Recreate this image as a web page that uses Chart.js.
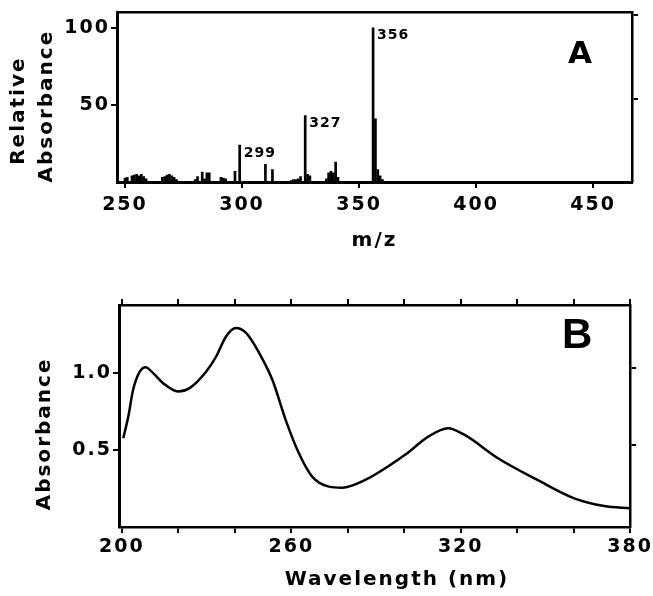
<!DOCTYPE html>
<html>
<head>
<meta charset="utf-8">
<script src="https://cdn.jsdelivr.net/npm/chart.js@4"></script>
<style>
  html, body { margin: 0; padding: 0; background: #fff; }
  #wrap { position: relative; width: 653px; height: 596px; }
  canvas { position: absolute; left: 0; }
  #chartA { top: 0; }
  #chartB { top: 260px; }
</style>
</head>
<body>
<div id="wrap">
  <canvas id="chartA" width="653" height="260"></canvas>
  <canvas id="chartB" width="653" height="336"></canvas>
</div>
<script>
// Panel A - mass spectrum (relative absorbance vs m/z)
const mzValues = [250, 251, 253, 254, 255, 256, 257, 258, 259,
    266, 267, 268, 269, 270, 271, 272,
    280, 281, 283, 284, 285, 286, 291, 292, 293, 297, 299,
    310, 313, 321, 322, 323, 324, 325, 327, 328, 329,
    336, 337, 338, 339, 340, 341, 356, 357, 358, 359, 360];
const relAbsorbance = [2.5, 3, 4, 4.5, 5, 4, 5, 3.5, 2,
    3, 3.5, 4.5, 5, 4, 3, 1.5,
    1.5, 3.5, 6.5, 2, 6, 6, 3, 2.5, 2, 7, 24,
    11.5, 8, 1, 1.5, 1.5, 2, 3.5, 43, 5, 4,
    2, 6, 7, 6, 13, 3, 100, 41, 8, 4, 1.5];
const mzTicks = [250, 300, 350, 400, 450];
const relTicks = [50, 100];
const relTicksRight = [54, 108];
const labelledPeaks = [299, 327, 356];

// Panel B - UV spectrum
const wavelengths = [200.5, 202.3, 204.0, 206.4, 208.4, 211.1, 214.6, 219.9, 224.0, 229.9,
    233.4, 236.9, 240.4, 244.0, 248.6, 253.3, 258.0, 262.7, 267.4, 273.3,
    278.0, 286.2, 300.3, 308.5, 315.5, 321.4, 333.2, 347.2, 360.2, 370.8, 380];
const absorbance = [0.576, 0.717, 0.890, 1.009, 1.037, 0.998, 0.933, 0.879, 0.901, 1.009,
    1.106, 1.236, 1.291, 1.259, 1.130, 0.955, 0.695, 0.478, 0.327, 0.262,
    0.255, 0.305, 0.468, 0.586, 0.641, 0.597, 0.446, 0.305, 0.186, 0.136, 0.121];
const nmTicks = [200, 220, 240, 260, 280, 300, 320, 340, 360, 380];
const nmLabels = [200, 260, 320, 380];
const absTicks = [0.5, 1.0];
const absTicksRight = [0.53, 1.03];

const FONT = "'DejaVu Sans', sans-serif";
Chart.defaults.font.family = FONT;
Chart.defaults.color = '#000';

function setTicks(values) {
    return axis => { axis.ticks = values.map(v => ({ value: v })); };
}

const spacing = {
    id: 'spacing',
    beforeDraw(chart) { chart.ctx.letterSpacing = '2px'; }
};

const panelLetter = {
    id: 'panelLetter',
    afterDraw(chart, args, opts) {
        const { ctx, chartArea } = chart;
        ctx.save();
        ctx.letterSpacing = '0px';
        ctx.font = `bold ${opts.size}px ${opts.family}`;
        ctx.fillStyle = '#000';
        ctx.textAlign = 'center';
        ctx.textBaseline = 'alphabetic';
        ctx.fillText(opts.text, chartArea.right - opts.right, chartArea.top + opts.down);
        ctx.restore();
    }
};

const peakLabels = {
    id: 'peakLabels',
    afterDatasetsDraw(chart) {
        const { ctx, scales: { x, y } } = chart;
        ctx.save();
        ctx.letterSpacing = '1px';
        ctx.font = `bold 14px ${FONT}`;
        ctx.fillStyle = '#000';
        ctx.textBaseline = 'top';
        labelledPeaks.forEach(mz => {
            const v = relAbsorbance[mzValues.indexOf(mz)];
            ctx.fillText(String(mz), x.getPixelForValue(mz) + 4, y.getPixelForValue(v) + 1);
        });
        ctx.restore();
    }
};

const tickFont = { size: 19, weight: 'bold' };
const titleFont = { size: 20, weight: 'bold' };
const markGrid = { drawOnChartArea: false, tickLength: 6, lineWidth: 2, color: '#000', offset: false };
const noGrid = { display: false };
const border = w => ({ color: '#000', width: w });

new Chart(document.getElementById('chartA'), {
    type: 'bar',
    data: {
        datasets: [{
            data: mzValues.map((m, i) => ({ x: m, y: relAbsorbance[i] })),
            backgroundColor: '#000',
            barThickness: 2
        }]
    },
    plugins: [spacing, peakLabels, panelLetter],
    options: {
        responsive: false,
        animation: false,
        devicePixelRatio: 1,
        layout: { padding: 0 },
        plugins: {
            legend: { display: false },
            tooltip: { enabled: false },
            panelLetter: { text: 'A', size: 31, family: FONT, right: 52, down: 51 }
        },
        scales: {
            x: {
                type: 'linear', position: 'bottom', min: 246.6, max: 466.6, offset: false,
                afterBuildTicks: setTicks(mzTicks),
                afterFit: s => { s.height = 78; },
                ticks: { autoSkip: false, maxRotation: 0, padding: 6, font: tickFont },
                grid: markGrid,
                border: border(3),
                title: { display: true, text: 'm/z', font: titleFont, padding: { top: 0, bottom: 7 } }
            },
            x2: {
                type: 'linear', position: 'top', min: 246.6, max: 466.6,
                afterFit: s => { s.height = 12; },
                ticks: { display: false },
                grid: noGrid,
                border: border(2.5)
            },
            y: {
                type: 'linear', position: 'left', min: 0, max: 110,
                afterBuildTicks: setTicks(relTicks),
                afterFit: s => { s.width = 117; },
                ticks: { autoSkip: false, padding: 1, font: tickFont },
                grid: markGrid,
                border: border(3),
                title: {
                    display: true, text: ['Relative   ', 'Absorbance  '],
                    font: { size: 20, weight: 'bold', lineHeight: 1.4 },
                    padding: { top: 5, bottom: 0 }
                }
            },
            y2: {
                type: 'linear', position: 'right', min: 0, max: 110,
                afterBuildTicks: setTicks(relTicksRight),
                afterFit: s => { s.width = 21; },
                ticks: { display: false },
                grid: markGrid,
                border: border(2.5)
            }
        }
    }
});

new Chart(document.getElementById('chartB'), {
    type: 'line',
    data: {
        datasets: [{
            data: wavelengths.map((w, i) => ({ x: w, y: absorbance[i] })),
            borderColor: '#000',
            borderWidth: 2.5,
            pointRadius: 0,
            cubicInterpolationMode: 'monotone',
            fill: false
        }]
    },
    plugins: [spacing, panelLetter],
    options: {
        responsive: false,
        animation: false,
        devicePixelRatio: 1,
        layout: { padding: 0 },
        plugins: {
            legend: { display: false },
            tooltip: { enabled: false },
            panelLetter: { text: 'B', size: 42, family: "'Liberation Sans', Arial, sans-serif", right: 53, down: 43 }
        },
        scales: {
            x: {
                type: 'linear', position: 'bottom', min: 199, max: 380,
                afterBuildTicks: setTicks(nmTicks),
                afterFit: s => { s.height = 69; },
                ticks: {
                    autoSkip: false, maxRotation: 0, padding: 3, font: tickFont,
                    callback: v => nmLabels.includes(v) ? String(v) : ''
                },
                grid: markGrid,
                border: border(2.5),
                title: { display: true, text: '     Wavelength (nm)', font: titleFont, padding: { top: 0, bottom: 4 } }
            },
            x2: {
                type: 'linear', position: 'top', min: 199, max: 380,
                afterBuildTicks: setTicks(nmTicks),
                afterFit: s => { s.height = 45; },
                ticks: { display: false },
                grid: markGrid,
                border: border(2.5)
            },
            y: {
                type: 'linear', position: 'left', min: 0, max: 1.44,
                afterBuildTicks: setTicks(absTicks),
                afterFit: s => { s.width = 119; },
                ticks: { autoSkip: false, padding: 1, font: tickFont, callback: v => v.toFixed(1) },
                grid: markGrid,
                border: border(3),
                title: { display: true, text: 'Absorbance    ', font: titleFont, padding: { top: 33, bottom: 0 } }
            },
            y2: {
                type: 'linear', position: 'right', min: 0, max: 1.44,
                afterBuildTicks: setTicks(absTicksRight),
                afterFit: s => { s.width = 20; },
                ticks: { display: false },
                grid: markGrid,
                border: border(2.5)
            }
        }
    }
});
</script>
</body>
</html>
